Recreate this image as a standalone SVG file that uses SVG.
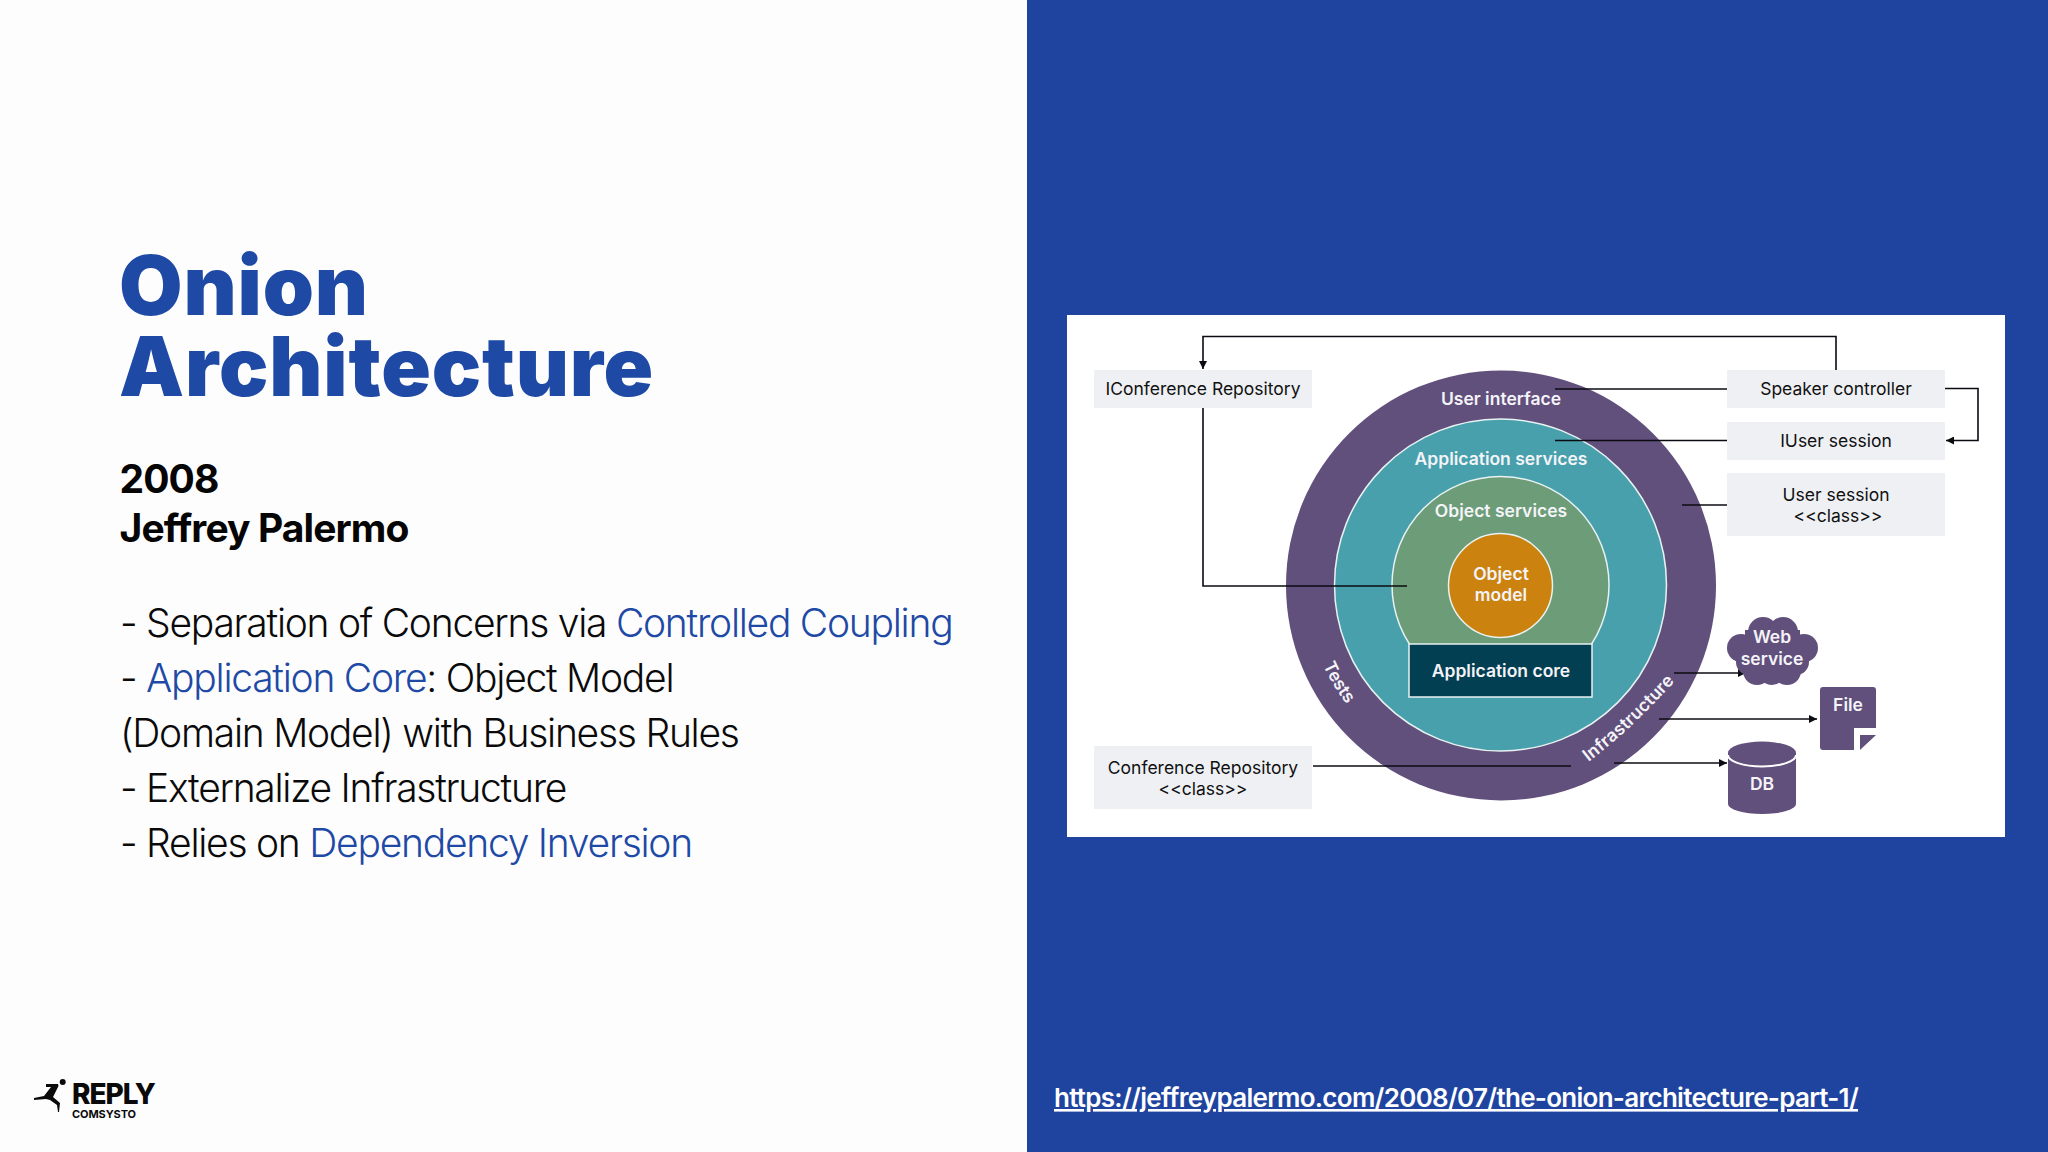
<svg xmlns="http://www.w3.org/2000/svg" width="2048" height="1152" viewBox="0 0 2048 1152">
<style>
text{font-family:Inter,"Liberation Sans",sans-serif}
.title{font-size:82px;font-weight:900;fill:#1e49a5;letter-spacing:0.85px}
.sub{font-size:39px;font-weight:700;fill:#050505;letter-spacing:-0.9px}
.body{font-size:39px;font-weight:350;fill:#0a0a0a;letter-spacing:-1.26px}
.hl{fill:#1e49a5}
.box{fill:#eef0f4}
.bl{font-size:17.5px;fill:#111;text-anchor:middle}
.wl{font-size:17.5px;font-weight:600;fill:#f4f4f8;text-anchor:middle}
.ring{stroke:#e8f2f2;stroke-width:1.5}
.purple{fill:#614f7c}
.conn{fill:none;stroke:#0b0b12;stroke-width:1.6}
.arr{marker-end:url(#arrow)}
</style>
<defs>
<marker id="arrow" markerUnits="userSpaceOnUse" markerWidth="9" markerHeight="8" refX="8" refY="4" orient="auto"><path d="M0 0L8 4L0 8Z" fill="#0b0b12"/></marker>
<path id="arc" d="M1306 585A195 195 0 0 0 1696 585"/>
<path id="infra" d="M1571 775Q1634 730 1687 667"/>
<clipPath id="greenclip"><rect x="1380" y="460" width="240" height="184"/></clipPath>
</defs>
<rect width="2048" height="1152" fill="#fdfdfe"/>
<rect x="1027" width="1021" height="1152" fill="#1f44a0"/>
<rect x="1067" y="315" width="938" height="522" fill="#fff"/>

<g id="slide-text">
<text class="title" x="119"><tspan x="119" y="315">Onion</tspan><tspan x="119" y="396">Architecture</tspan></text>
<text class="sub" x="119.500"><tspan x="119.500" y="493">2008</tspan><tspan x="119.500" y="542">Jeffrey Palermo</tspan></text>
<text class="body" x="120" y="637">- Separation of Concerns via <tspan class="hl">Controlled Coupling</tspan></text>
<text class="body" x="120" y="692">- <tspan class="hl">Application Core</tspan>: Object Model</text>
<text class="body" x="120" y="747">(Domain Model) with Business Rules</text>
<text class="body" x="120" y="802">- Externalize Infrastructure</text>
<text class="body" x="120" y="857">- Relies on <tspan class="hl">Dependency Inversion</tspan></text>
<text x="1054" y="1107" font-size="26" font-weight="600" fill="#fff" letter-spacing="-0.72" text-decoration="underline">https://jeffreypalermo.com/2008/07/the-onion-architecture-part-1/</text>
</g>

<g id="logo">
<circle cx="62.7" cy="1082" r="3" fill="#0a0a0a"/>
<path d="M46 1084L58 1084L58.500 1086L53 1097L60 1103L59 1112L58 1112L57 1105L50 1100L46 1099L34 1100L34 1098L44 1096L51 1087L46 1087Z" fill="#0a0a0a"/>
<text x="72" y="1104" font-size="28" font-weight="800" fill="#0a0a0a" letter-spacing="-1">REPLY</text>
<text x="72" y="1118" font-size="11" font-weight="700" fill="#0a0a0a" letter-spacing="-0.1">COMSYSTO</text>
</g>

<g id="onion">
<circle id="ring-ui" class="purple" cx="1501" cy="585.500" r="215"/>
<circle id="ring-app" cx="1500.500" cy="585" r="166" fill="#47a0ac" class="ring"/>
<g clip-path="url(#greenclip)"><circle id="ring-obj" cx="1500.500" cy="585" r="108.500" fill="#6c9c78" class="ring"/></g>
<circle id="core" cx="1500.500" cy="585.500" r="52" fill="#cb820e" class="ring"/>
<rect id="app-core" x="1409" y="644" width="183" height="53" fill="#033f52" class="ring"/>
<text class="wl" x="1501" y="405">User interface</text>
<text class="wl" x="1501" y="465">Application services</text>
<text class="wl" x="1501" y="517">Object services</text>
<text class="wl" x="1501" y="580">Object</text>
<text class="wl" x="1501" y="601">model</text>
<text class="wl" x="1501" y="677">Application core</text>
<text class="wl"><textPath href="#arc" startOffset="17.2%">Tests</textPath></text>
<text class="wl" letter-spacing="0.1"><textPath href="#infra" startOffset="51%">Infrastructure</textPath></text>
</g>

<g id="connectors">
<path class="conn arr" d="M1836 370V336.500H1203V369"/>
<path class="conn" d="M1203 408V586H1407"/>
<path class="conn" d="M1727 389H1555"/>
<path class="conn" d="M1727 440.500H1555"/>
<path class="conn" d="M1727 505H1682"/>
<path class="conn arr" d="M1945 388.500H1978V440.500H1946"/>
<path class="conn" d="M1313 766H1571"/>
<path class="conn arr" d="M1674 673H1746"/>
<path class="conn arr" d="M1659 719H1817"/>
<path class="conn arr" d="M1614 763H1727"/>
</g>

<g id="iconference-repository"><rect class="box" x="1094" y="370" width="218" height="38"/><text class="bl" x="1203" y="395">IConference Repository</text></g>
<g id="speaker-controller"><rect class="box" x="1727" y="370" width="218" height="38"/><text class="bl" x="1836" y="395">Speaker controller</text></g>
<g id="iuser-session"><rect class="box" x="1727" y="422" width="218" height="38"/><text class="bl" x="1836" y="447">IUser session</text></g>
<g id="user-session"><rect class="box" x="1727" y="473" width="218" height="63"/><text class="bl" x="1836" y="501">User session</text><text class="bl" x="1838" y="522">&lt;&lt;class&gt;&gt;</text></g>
<g id="conference-repository"><rect class="box" x="1094" y="746" width="218" height="63"/><text class="bl" x="1203" y="774">Conference Repository</text><text class="bl" x="1203" y="795">&lt;&lt;class&gt;&gt;</text></g>

<g id="web-service">
<g class="purple"><circle cx="1763" cy="632" r="15"/><circle cx="1783" cy="632" r="15"/><circle cx="1741" cy="648" r="14"/><circle cx="1804" cy="648" r="14"/><circle cx="1749" cy="662" r="13"/><circle cx="1796" cy="662" r="13"/><circle cx="1757" cy="671" r="14"/><circle cx="1772" cy="672" r="13"/><circle cx="1787" cy="671" r="14"/><rect x="1745" y="630" width="55" height="44"/></g>
<text class="wl" x="1772" y="643">Web</text><text class="wl" x="1772" y="664.500">service</text>
</g>
<g id="file">
<path class="purple" d="M1823 687H1873Q1876 687 1876 690V728H1854V750H1823Q1820 750 1820 747V690Q1820 687 1823 687Z"/>
<path class="purple" d="M1860 735H1876L1860 750Z"/>
<text class="wl" x="1848" y="711">File</text>
</g>
<g id="db">
<path class="purple" d="M1728 753A34 11.500 0 0 1 1796 753V804A34 10 0 0 1 1728 804Z"/>
<path d="M1728 755A34 11.500 0 0 0 1796 755" fill="none" stroke="#fff" stroke-width="2"/>
<text class="wl" x="1762" y="790">DB</text>
</g>
</svg>
